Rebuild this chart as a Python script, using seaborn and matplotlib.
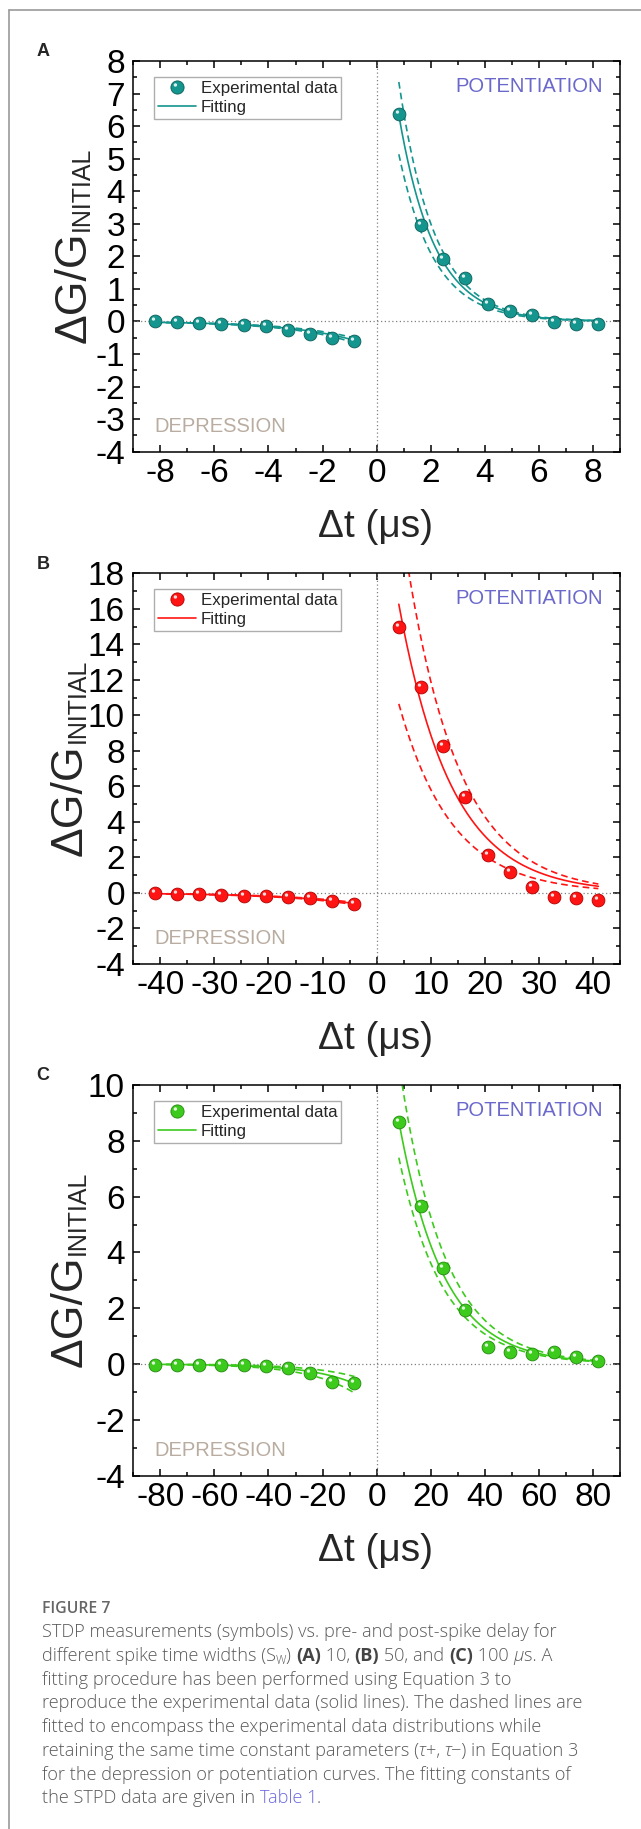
import numpy as np
import matplotlib
matplotlib.use("Agg")
import matplotlib.pyplot as plt
import seaborn as sns
from matplotlib.path import Path
from matplotlib.lines import Line2D
from matplotlib.legend_handler import HandlerTuple
from matplotlib.ticker import MultipleLocator

# ---------------- data ----------------
A_dep_x = [-8.2, -7.38, -6.56, -5.74, -4.92, -4.1, -3.28, -2.46, -1.64, -0.82]
A_dep_y = [0.0, -0.03, -0.05, -0.08, -0.11, -0.14, -0.25, -0.38, -0.50, -0.60]
A_pot_x = [0.82, 1.64, 2.46, 3.28, 4.1, 4.92, 5.74, 6.56, 7.38, 8.2]
A_pot_y = [6.37, 2.96, 1.92, 1.35, 0.54, 0.32, 0.20, -0.03, -0.09, -0.09]

B_dep_x = [-41.0, -36.9, -32.8, -28.7, -24.6, -20.5, -16.4, -12.3, -8.2, -4.1]
B_dep_y = [0.0, -0.04, -0.06, -0.10, -0.15, -0.19, -0.25, -0.29, -0.48, -0.63]
B_pot_x = [4.1, 8.2, 12.3, 16.4, 20.5, 24.6, 28.7, 32.8, 36.9, 41.0]
B_pot_y = [15.0, 11.6, 8.25, 5.40, 2.15, 1.20, 0.34, -0.23, -0.29, -0.38]

C_dep_x = [-82.0, -73.8, -65.6, -57.4, -49.2, -41.0, -32.8, -24.6, -16.4, -8.2]
C_dep_y = [-0.02, -0.02, -0.02, -0.02, -0.04, -0.08, -0.14, -0.33, -0.64, -0.68]
C_pot_x = [8.2, 16.4, 24.6, 32.8, 41.0, 49.2, 57.4, 65.6, 73.8, 82.0]
C_pot_y = [8.68, 5.66, 3.43, 1.94, 0.60, 0.45, 0.37, 0.45, 0.27, 0.12]

# fit constants (Equation 3): amplitude, tau, dashed-band factors (low, high)
A_pot_fit = [11.8, 1.32, 0.81, 1.16]
A_dep_fit = [0.82, 2.4, 0.87, 1.13]
B_pot_fit = [24.7, 9.8, 0.655, 1.34]
B_dep_fit = [0.80, 14.0, 0.90, 1.10]
C_pot_fit = [14.3, 16.5, 0.85, 1.24]
C_dep_fit = [1.13, 17.0, 0.64, 1.49]

x_ticks = [[-8, -6, -4, -2, 0, 2, 4, 6, 8],
           [-40, -30, -20, -10, 0, 10, 20, 30, 40],
           [-80, -60, -40, -20, 0, 20, 40, 60, 80]]
y_ticks = [[-4, -3, -2, -1, 0, 1, 2, 3, 4, 5, 6, 7, 8],
           [-4, -2, 0, 2, 4, 6, 8, 10, 12, 14, 16, 18],
           [-4, -2, 0, 2, 4, 6, 8, 10]]
panel_letters = ["A", "B", "C"]
colors = ["#14958e", "#ff1414", "#3ccb1c"]
edge_colors = ["#0b5e59", "#b00000", "#23870e"]
legend_labels = ["Experimental data", "Fitting"]

# ---------------- figure ----------------
sns.set_theme(style="ticks")
plt.rcParams["font.family"] = ["Liberation Sans", "DejaVu Sans"]
plt.rcParams["axes.facecolor"] = "white"
plt.rcParams["figure.facecolor"] = "white"

W, H = 641, 1829
fig = plt.figure(figsize=(W / 100, H / 100), dpi=100)
renderer = fig.canvas.get_renderer()


def fx(px):
    return px / W


def fy(py):
    return 1 - py / H


# frame
fig.add_artist(Line2D([fx(9), fx(9)], [fy(10), fy(1829)], color="#9a9a9a", lw=1.2))
fig.add_artist(Line2D([fx(9), fx(641)], [fy(10), fy(10)], color="#9a9a9a", lw=1.2))

# highlight marker (shiny spot of a sphere)
circ = Path.circle(center=(-0.16, 0.19), radius=0.13)
hl_path = Path(np.vstack([[[0.5, 0.5]], circ.vertices]),
               np.concatenate([[Path.MOVETO], circ.codes]))

panels = [
    (A_dep_x, A_dep_y, A_pot_x, A_pot_y, A_dep_fit, A_pot_fit, (-9, 9), (-4, 8), 1, 0.5),
    (B_dep_x, B_dep_y, B_pot_x, B_pot_y, B_dep_fit, B_pot_fit, (-45, 45), (-4, 18), 5, 1),
    (C_dep_x, C_dep_y, C_pot_x, C_pot_y, C_dep_fit, C_pot_fit, (-90, 90), (-4, 10), 10, 1),
]
ax_tops = [61, 573.3, 1085]
ax_h = 390.7
ax_left, ax_right = 133.3, 620
ylab_x = [86, 82, 82]

for i, (dx, dy, px_, py_, dfit, pfit, xl, yl, xminor, yminor) in enumerate(panels):
    top = ax_tops[i]
    bottom = top + ax_h
    ax = fig.add_axes([fx(ax_left), fy(bottom), (ax_right - ax_left) / W, ax_h / H])
    c = colors[i]
    ec = edge_colors[i]

    ax.axhline(0, color="#808080", lw=0.9, ls=(0, (1, 2)), zorder=1)
    ax.axvline(0, color="#808080", lw=0.9, ls=(0, (1, 2)), zorder=1)

    # fitted curves
    xs_d = np.linspace(min(dx), max(dx), 200)
    xs_p = np.linspace(min(px_), max(px_), 200)
    yd = -dfit[0] * np.exp(xs_d / dfit[1])
    yp = pfit[0] * np.exp(-xs_p / pfit[1])
    for xs, ys, fit in ((xs_d, yd, dfit), (xs_p, yp, pfit)):
        sns.lineplot(x=xs, y=ys, ax=ax, color=c, lw=1.2, sort=False,
                     estimator=None, legend=False, zorder=2)
        for f in fit[2:]:
            sns.lineplot(x=xs, y=ys * f, ax=ax, color=c, lw=1.2, sort=False,
                         estimator=None, legend=False, zorder=2,
                         linestyle=(0, (4, 2.5)))

    # data points (spheres)
    allx = list(dx) + list(px_)
    ally = list(dy) + list(py_)
    sns.scatterplot(x=allx, y=ally, ax=ax, color=c, s=85, edgecolor=ec,
                    linewidth=0.6, zorder=4, legend=False)
    sns.scatterplot(x=allx, y=ally, ax=ax, color="white", s=85, marker=hl_path,
                    linewidth=0, alpha=0.85, zorder=5, legend=False)

    ax.set_xlim(*xl)
    ax.set_ylim(*yl)
    ax.set_xticks(x_ticks[i])
    ax.set_yticks(y_ticks[i])
    ax.set_xticklabels([str(v) for v in x_ticks[i]])
    ax.set_yticklabels([str(v) for v in y_ticks[i]])
    ax.xaxis.set_minor_locator(MultipleLocator(xminor))
    ax.yaxis.set_minor_locator(MultipleLocator(yminor))
    ax.tick_params(which="both", direction="in", top=True, right=True,
                   colors="black", width=1.1)
    ax.tick_params(which="major", length=5, labelsize=24)
    ax.tick_params(which="minor", length=3)
    ax.tick_params(axis="x", which="major", pad=4.5)
    ax.tick_params(axis="y", which="major", pad=6)
    for sp in ax.spines.values():
        sp.set_visible(True)
        sp.set_color("black")
        sp.set_linewidth(1.1)
    ax.set_xlabel("")
    ax.set_ylabel("")

    # annotations
    fig.text(fx(603), fy(top + 25), "POTENTIATION", ha="right", va="center",
             fontsize=14.5, color="#6b68cc")
    fig.text(fx(154.5), fy(bottom - 25), "DEPRESSION", ha="left", va="center",
             fontsize=14.5, color="#b9aca0")

    # legend
    h_pt = Line2D([], [], marker="o", ls="none", color=c, mec=ec, mew=0.6, ms=9.5)
    h_hl = Line2D([], [], marker=hl_path, ls="none", color="white", mew=0, ms=9.5, alpha=0.85)
    h_ln = Line2D([], [], color=c, lw=1.2)
    leg = ax.legend([(h_pt, h_hl), h_ln], legend_labels,
                    handler_map={tuple: HandlerTuple(ndivide=1)},
                    loc="upper left",
                    bbox_to_anchor=((154 - ax_left) / (ax_right - ax_left), 1 - (76.7 - 61) / ax_h),
                    borderaxespad=0, fontsize=12.2, frameon=True, fancybox=False,
                    edgecolor="#9a9a9a", borderpad=0.25, labelspacing=0.22,
                    handlelength=2.2, handletextpad=0.3)
    leg.get_frame().set_linewidth(1.0)

    # x label
    fig.text(fx(376), fy(bottom + 75.3), "\u0394t (\u03bcs)", ha="center",
             va="center", fontsize=28)

    # y label: main + subscript
    y0 = bottom - 108.5
    t_main = fig.text(fx(ylab_x[i]), fy(y0), "\u0394G/G", rotation=90,
                      rotation_mode="anchor", ha="left", va="baseline", fontsize=32)
    wmain = t_main.get_window_extent(renderer).height
    fig.text(fx(ylab_x[i] + 3), fy(y0 - wmain - 1), "INITIAL", rotation=90,
             rotation_mode="anchor", ha="left", va="baseline", fontsize=18)

    # panel letter
    fig.text(fx(43), fy(top - 9), panel_letters[i], ha="center", va="center",
             fontsize=13, fontweight="bold")

# ---------------- caption ----------------
cap_family = ["Open Sans", "DejaVu Sans"]
cap_size = 13.1
cap_color = "#5a5a5a"


def adv_width(s, **kw):
    t1 = fig.text(0, 0, "X" + s + "X", **kw)
    t2 = fig.text(0, 0, "XX", **kw)
    w = t1.get_window_extent(renderer).width - t2.get_window_extent(renderer).width
    t1.remove()
    t2.remove()
    return w


def draw_line(x0, ybase, runs):
    x = x0
    for run in runs:
        s = run[0]
        kw = dict(family=cap_family, fontsize=cap_size, color=cap_color,
                  fontweight="light")
        kw.update(run[1] if len(run) > 1 else {})
        dy = kw.pop("dy", 0)
        fig.text(fx(x), fy(ybase + dy), s, ha="left", va="baseline", **kw)
        x += adv_width(s, **kw)


fig.text(fx(41.7), fy(1609), "FIGURE 7", ha="left", va="center",
         family=cap_family, fontsize=11.3, color="#666666", fontweight="semibold")

bold = {"fontweight": "bold", "color": "#444444"}
ital = {"style": "italic"}
lines = [
    [("STDP measurements (symbols) vs. pre- and post-spike delay for",)],
    [("different spike time widths (S",), ("W", {"fontsize": 8.5, "dy": 3}), (") ",),
     ("(A)", bold), (" 10, ",), ("(B)", bold), (" 50, and ",), ("(C)", bold),
     (" 100 ",), ("\u03bc", ital), ("s. A",)],
    [("fitting procedure has been performed using Equation 3 to",)],
    [("reproduce the experimental data (solid lines). The dashed lines are",)],
    [("fitted to encompass the experimental data distributions while",)],
    [("retaining the same time constant parameters (",), ("\u03c4", ital), ("+, ",),
     ("\u03c4", ital), ("\u2212) in Equation 3",)],
    [("for the depression or potentiation curves. The fitting constants of",)],
    [("the STPD data are given in ",), ("Table 1", {"color": "#6b68e0"}), (".",)],
]
line_centers = [1632, 1655.7, 1679.7, 1703, 1727, 1750.7, 1774.7, 1798.3]
for ln, yc in zip(lines, line_centers):
    draw_line(41.7, yc + 5, ln)

fig.savefig("out.png", dpi=100)
